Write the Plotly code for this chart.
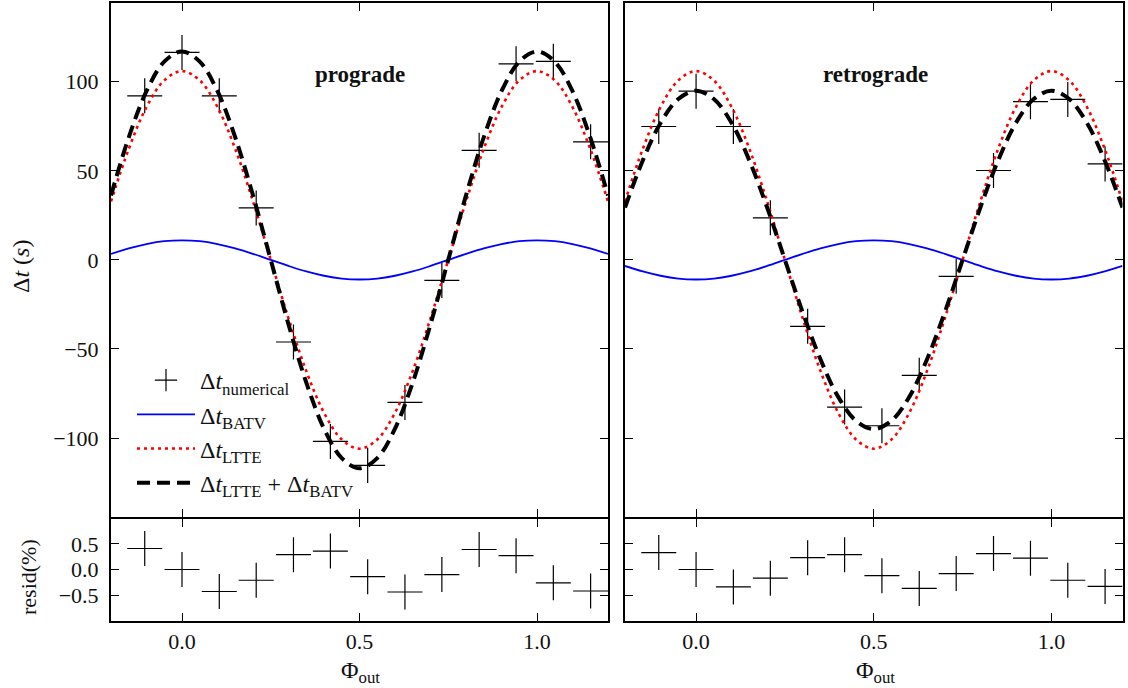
import numpy as np
import plotly.graph_objects as go

# ---- data -----------------------------------------------------------------
# orbital phase grid for the analytic timing curves
PHASE_GRID = [-0.20, -0.15, -0.10, -0.05, 0.00, 0.05, 0.10, 0.15, 0.20, 0.25,
              0.30, 0.35, 0.40, 0.45, 0.50, 0.55, 0.60, 0.65, 0.70, 0.75,
              0.80, 0.85, 0.90, 0.95, 1.00, 1.05, 1.10, 1.15, 1.20]

# light-travel-time effect (s), identical for both orientations
LTTE = [32.8, 62.3, 85.8, 100.8, 106.0, 100.8, 85.8, 62.3, 32.8, 0.0,
        -32.8, -62.3, -85.8, -100.8, -106.0, -100.8, -85.8, -62.3, -32.8, 0.0,
        32.8, 62.3, 85.8, 100.8, 106.0, 100.8, 85.8, 62.3, 32.8]

# binary-averaged timing variation (s)
BATV_PRO = [3.4, 6.5, 8.9, 10.5, 11.0, 10.5, 8.9, 6.5, 3.4, 0.0,
            -3.4, -6.5, -8.9, -10.5, -11.0, -10.5, -8.9, -6.5, -3.4, 0.0,
            3.4, 6.5, 8.9, 10.5, 11.0, 10.5, 8.9, 6.5, 3.4]
BATV_RETRO = [-3.4, -6.5, -8.9, -10.5, -11.0, -10.5, -8.9, -6.5, -3.4, 0.0,
              3.4, 6.5, 8.9, 10.5, 11.0, 10.5, 8.9, 6.5, 3.4, 0.0,
              -3.4, -6.5, -8.9, -10.5, -11.0, -10.5, -8.9, -6.5, -3.4]

# numerically integrated eclipse timings
PHASE_NUM = [-0.105, 0.0, 0.105, 0.209, 0.314, 0.418, 0.523, 0.628, 0.732,
             0.837, 0.941, 1.046, 1.151]
NUM_PRO = [92.1, 116.5, 92.1, 29.2, -46.1, -101.9, -115.4, -80.0, -11.5,
           61.5, 110.1, 111.5, 66.3]
NUM_RETRO = [74.9, 94.7, 74.9, 23.6, -37.3, -82.6, -93.1, -64.8, -9.2,
             50.2, 88.8, 90.1, 53.9]

# residuals in percent
RESID_PRO = [0.41, 0.0, -0.43, -0.21, 0.29, 0.36, -0.14, -0.44, -0.10,
             0.39, 0.27, -0.26, -0.42]
RESID_RETRO = [0.33, 0.0, -0.34, -0.17, 0.23, 0.29, -0.12, -0.37, -0.08,
               0.31, 0.22, -0.21, -0.33]

PANEL_TITLES = ["prograde", "retrograde"]

# tick values / labels
X_TICKS = [0.0, 0.5, 1.0]
X_TICK_TEXT = ["0.0", "0.5", "1.0"]
Y_TICKS = [-100, -50, 0, 50, 100]
Y_TICK_TEXT = ["\u2212100", "\u221250", "0", "50", "100"]
R_TICKS = [-0.5, 0.0, 0.5]
R_TICK_TEXT = ["\u22120.5", "0.0", "0.5"]

# ---- figure ---------------------------------------------------------------
W, H = 1128, 688
SERIF = "Liberation Serif, Times New Roman, serif"
INK = "#111111"

fig = go.Figure()

CROSS = dict(symbol="cross-thin", size=25, color="black",
             line=dict(color="black", width=1.2))

LBL_NUM = "\u0394<i>t</i><sub>numerical</sub>"
LBL_BATV = "\u0394<i>t</i><sub>BATV</sub>"
LBL_LTTE = "\u0394<i>t</i><sub>LTTE</sub>"
LBL_SUM = "\u0394<i>t</i><sub>LTTE</sub> + \u0394<i>t</i><sub>BATV</sub>"

panels = [
    ("x", "y", "x3", "y3", NUM_PRO, BATV_PRO, RESID_PRO, True),
    ("x2", "y2", "x4", "y4", NUM_RETRO, BATV_RETRO, RESID_RETRO, False),
]

ltte = np.array(LTTE)
for xa, ya, xr, yr, num, batv, resid, show in panels:
    batv = np.array(batv)
    fig.add_trace(go.Scatter(x=PHASE_NUM, y=num, mode="markers", marker=CROSS,
                             name=LBL_NUM, showlegend=show, xaxis=xa, yaxis=ya))
    fig.add_trace(go.Scatter(x=PHASE_GRID, y=batv, mode="lines",
                             line=dict(color="#0000ff", width=1.8, shape="spline"),
                             name=LBL_BATV, showlegend=show, xaxis=xa, yaxis=ya))
    fig.add_trace(go.Scatter(x=PHASE_GRID, y=ltte, mode="lines",
                             line=dict(color="#ff0000", width=2.6, dash="3px,4px",
                                       shape="spline"),
                             name=LBL_LTTE, showlegend=show, xaxis=xa, yaxis=ya))
    fig.add_trace(go.Scatter(x=PHASE_GRID, y=ltte + batv, mode="lines",
                             line=dict(color="black", width=4, dash="13px,7px",
                                       shape="spline"),
                             name=LBL_SUM, showlegend=show, xaxis=xa, yaxis=ya))
    fig.add_trace(go.Scatter(x=PHASE_NUM, y=resid, mode="markers", marker=CROSS,
                             showlegend=False, xaxis=xr, yaxis=yr))

# panel geometry (pixels -> paper); axis lines sit just outside each domain
def px_x(p):
    return p / W

def px_y(p):
    return 1 - p / H

XL = [px_x(111), px_x(608)]
XR = [px_x(625), px_x(1122.5)]
Y_MAIN = [px_y(517.3), px_y(2.5)]
Y_RES = [px_y(620.7), px_y(519.3)]

axis_common = dict(showline=True, linecolor="black", linewidth=2, mirror="ticks",
                   ticks="inside", ticklen=8, tickwidth=1.2, tickcolor="black",
                   showgrid=False, zeroline=False,
                   tickfont=dict(family=SERIF, size=22, color=INK))

def xaxis(domain, anchor, labels):
    return dict(axis_common, domain=domain, anchor=anchor, range=[-0.2, 1.2],
                tickvals=X_TICKS, ticktext=X_TICK_TEXT, showticklabels=labels,
                ticklabelstandoff=0)

def yaxis(domain, anchor, vals, text, rng, labels):
    return dict(axis_common, domain=domain, anchor=anchor, range=rng,
                tickvals=vals, ticktext=text, showticklabels=labels,
                ticklabelstandoff=6)

fig.update_layout(
    width=W, height=H,
    margin=dict(l=0, r=0, t=0, b=0),
    paper_bgcolor="white", plot_bgcolor="white",
    font=dict(family=SERIF, size=22, color=INK),
    xaxis=xaxis(XL, "y", False),
    xaxis2=xaxis(XR, "y2", False),
    xaxis3=xaxis(XL, "y3", True),
    xaxis4=xaxis(XR, "y4", True),
    yaxis=yaxis(Y_MAIN, "x", Y_TICKS, Y_TICK_TEXT, [-144.5, 144.5], True),
    yaxis2=yaxis(Y_MAIN, "x2", Y_TICKS, Y_TICK_TEXT, [-144.5, 144.5], False),
    yaxis3=yaxis(Y_RES, "x3", R_TICKS, R_TICK_TEXT, [-1.0, 0.98], True),
    yaxis4=yaxis(Y_RES, "x4", R_TICKS, R_TICK_TEXT, [-1.0, 0.98], False),
    legend=dict(x=px_x(132), y=px_y(358), xanchor="left", yanchor="top",
                bgcolor="rgba(0,0,0,0)", borderwidth=0,
                font=dict(family=SERIF, size=24, color=INK),
                itemwidth=58, tracegroupgap=0),
    showlegend=True,
)

annotations = [
    dict(text="\u0394<i>t</i> (<i>s</i>)", x=px_x(21), y=px_y(267), textangle=-90,
         font_size=24),
    dict(text="resid(%)", x=px_x(28), y=px_y(577), textangle=-90),
    dict(text="\u03a6<sub>out</sub>", x=px_x(360), y=px_y(672), font_size=24),
    dict(text="\u03a6<sub>out</sub>", x=px_x(875), y=px_y(672), font_size=24),
    dict(text="<b>%s</b>" % PANEL_TITLES[0], x=px_x(359.5), y=px_y(75), font_size=23),
    dict(text="<b>%s</b>" % PANEL_TITLES[1], x=px_x(875), y=px_y(75), font_size=23),
]
for a in annotations:
    size = a.pop("font_size", 22)
    fig.add_annotation(xref="paper", yref="paper", showarrow=False,
                       xanchor="center", yanchor="middle",
                       font=dict(family=SERIF, size=size, color=INK), **a)

fig.write_html("out.html")
